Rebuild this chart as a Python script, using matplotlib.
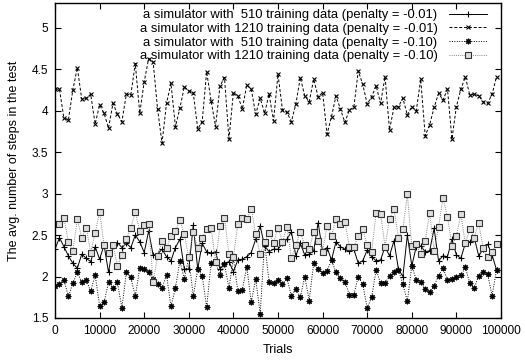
import numpy as np
import matplotlib
matplotlib.use("Agg")
import matplotlib.pyplot as plt
from matplotlib.ticker import FixedLocator

trials = np.arange(0, 100000, 1000)

# a simulator with 510 training data (penalty = -0.01)
s510_p001 = [2.33, 2.47, 2.36, 2.25, 2.16, 2.10, 2.27, 2.22, 2.18, 2.36,
             2.21, 2.38, 2.05, 2.38, 2.41, 2.35, 2.40, 2.35, 2.50, 2.42,
             2.29, 2.55, 2.26, 2.27, 2.33, 2.24, 2.19, 2.35, 2.45, 2.09,
             2.09, 2.62, 2.09, 2.40, 2.30, 2.28, 2.30, 2.09, 2.16, 2.18,
             2.06, 2.20, 2.21, 2.24, 2.29, 2.45, 2.61, 2.37, 2.30, 2.33,
             2.33, 2.40, 2.45, 2.54, 2.25, 2.40, 2.26, 2.27, 2.31, 2.65,
             2.30, 2.35, 2.20, 2.42, 2.36, 2.33, 2.31, 2.33, 2.16, 2.19,
             2.32, 2.24, 2.19, 2.20, 2.36, 2.25, 2.43, 2.09, 2.00, 2.50,
             2.13, 2.36, 2.37, 2.30, 2.31, 2.58, 2.19, 2.25, 2.24, 2.45,
             2.26, 2.22, 2.40, 2.42, 2.47, 2.25, 2.33, 2.39, 2.26, 2.08]

# a simulator with 1210 training data (penalty = -0.01)
s1210_p001 = [4.26, 4.26, 3.91, 3.89, 4.25, 4.52, 4.14, 4.15, 4.20, 3.84,
              4.07, 3.97, 3.79, 4.09, 3.96, 3.87, 4.20, 4.19, 4.57, 3.97,
              4.35, 4.63, 4.59, 4.02, 3.61, 4.09, 4.33, 3.81, 4.03, 4.29,
              4.24, 4.22, 3.78, 3.87, 4.47, 4.12, 3.81, 4.30, 4.40, 3.66,
              4.22, 4.18, 4.02, 4.31, 4.26, 3.96, 4.15, 3.97, 4.20, 3.88,
              4.44, 4.01, 3.98, 3.87, 4.08, 4.40, 4.18, 4.11, 4.38, 4.17,
              4.22, 3.72, 3.93, 4.18, 4.02, 3.86, 4.01, 4.04, 4.48, 4.32,
              4.08, 4.17, 4.30, 4.09, 4.41, 3.77, 4.04, 4.05, 4.15, 3.95,
              4.05, 4.00, 4.38, 3.70, 3.83, 4.04, 4.21, 4.13, 4.26, 3.66,
              4.05, 4.26, 4.41, 4.19, 4.20, 4.18, 4.11, 4.09, 4.20, 4.41]

# a simulator with 510 training data (penalty = -0.10)
s510_p010 = [1.89, 1.91, 1.96, 1.76, 1.92, 2.05, 1.93, 1.96, 1.82, 2.02,
             1.65, 1.69, 1.93, 1.86, 1.93, 1.62, 2.05, 1.99, 1.76, 2.10,
             2.09, 2.05, 1.97, 1.91, 1.86, 2.02, 1.64, 1.86, 2.19, 1.97,
             2.23, 1.76, 2.09, 2.01, 1.63, 2.16, 2.17, 2.02, 2.15, 1.86,
             2.22, 1.82, 1.84, 2.12, 1.69, 1.97, 1.55, 2.42, 1.93, 1.92,
             1.96, 1.91, 1.98, 1.77, 1.85, 1.75, 2.00, 1.71, 2.16, 2.09,
             2.04, 2.07, 2.20, 2.05, 1.98, 1.94, 1.78, 1.78, 2.00, 1.91,
             1.62, 1.75, 2.08, 1.92, 1.92, 2.01, 2.06, 2.08, 1.91, 1.70,
             2.13, 1.96, 1.94, 1.85, 1.81, 1.89, 2.01, 2.10, 1.96, 1.97,
             2.00, 2.02, 2.11, 1.92, 1.86, 2.01, 2.06, 2.03, 1.77, 2.08]

# a simulator with 1210 training data (penalty = -0.10)
s1210_p010 = [2.63, 2.64, 2.71, 2.42, 2.31, 2.69, 2.47, 2.59, 2.29, 2.52,
              2.78, 2.38, 2.28, 2.38, 2.13, 2.26, 2.45, 2.59, 2.78, 2.55,
              2.62, 2.64, 1.93, 2.25, 2.43, 2.34, 2.49, 2.55, 2.68, 2.51,
              2.23, 2.54, 2.35, 2.47, 2.57, 2.59, 2.18, 2.61, 2.71, 2.27,
              2.23, 2.64, 2.71, 2.69, 2.82, 2.51, 2.27, 2.42, 2.52, 2.41,
              2.59, 2.42, 2.60, 2.22, 2.38, 2.54, 2.38, 2.33, 2.54, 2.43,
              2.30, 2.61, 2.49, 2.69, 2.63, 2.66, 2.36, 2.36, 2.49, 2.57,
              2.38, 2.30, 2.77, 2.76, 2.36, 2.69, 2.82, 2.47, 2.57, 2.99,
              2.37, 2.39, 2.27, 2.43, 2.77, 2.31, 2.60, 2.95, 2.72, 2.37,
              2.49, 2.75, 2.40, 2.57, 2.47, 2.65, 2.34, 2.23, 2.30, 2.39]

labels = ["a simulator with  510 training data (penalty = -0.01)",
          "a simulator with 1210 training data (penalty = -0.01)",
          "a simulator with  510 training data (penalty = -0.10)",
          "a simulator with 1210 training data (penalty = -0.10)"]

xticks = [0, 10000, 20000, 30000, 40000, 50000, 60000, 70000, 80000, 90000, 100000]
yticks = [1.5, 2, 2.5, 3, 3.5, 4, 4.5, 5]

plt.rcParams['font.family'] = ['Liberation Sans', 'DejaVu Sans']
FS = 8.6

fig = plt.figure(figsize=(5.25, 3.64), dpi=100)
ax = fig.add_axes([55/525, 1 - 318/364, (501 - 55)/525, (318 - 3)/364])

LW = 0.7
ax.plot(trials, s510_p001, color='black', lw=LW, ls='-', marker='+', ms=4.5, mew=0.8, label=labels[0])
ax.plot(trials, s1210_p001, color='black', lw=LW, ls=(0, (3, 2)), marker='x', ms=3.5, mew=0.8, label=labels[1])
ax.plot(trials, s510_p010, color='black', lw=LW, ls=(0, (1, 1.5)), marker=(8, 2, 0), ms=4, mew=0.8, label=labels[2])
ax.plot(trials, s1210_p010, color='#888888', lw=LW, ls=(0, (1, 1.2)), marker='s', ms=3.8, mew=0.8,
        mec='#333333', mfc='#dddddd', label=labels[3])

ax.set_xlim(0, 100000)
ax.set_ylim(1.5, 5.3)
ax.xaxis.set_major_locator(FixedLocator(xticks))
ax.yaxis.set_major_locator(FixedLocator(yticks))
ax.set_xticklabels([str(t) for t in xticks])
ax.set_yticklabels([("%g" % t) for t in yticks])
ax.tick_params(direction='in', length=4, width=0.8, top=True, right=True,
               labelsize=FS, pad=5)
for sp in ax.spines.values():
    sp.set_linewidth(1.0)

ax.set_xlabel("Trials", fontsize=FS + 0.4, labelpad=5)
ax.set_ylabel("The avg. number of steps in the test", fontsize=FS + 0.4, labelpad=8)

leg = ax.legend(loc='upper right', bbox_to_anchor=((487 - 55) / 446, 1 - (9 - 3) / 315),
                frameon=False, markerfirst=False, fontsize=9.4, handlelength=2.9,
                handletextpad=0.9, labelspacing=0.12, borderaxespad=0, borderpad=0)

fig.savefig("out.png", dpi=100)
